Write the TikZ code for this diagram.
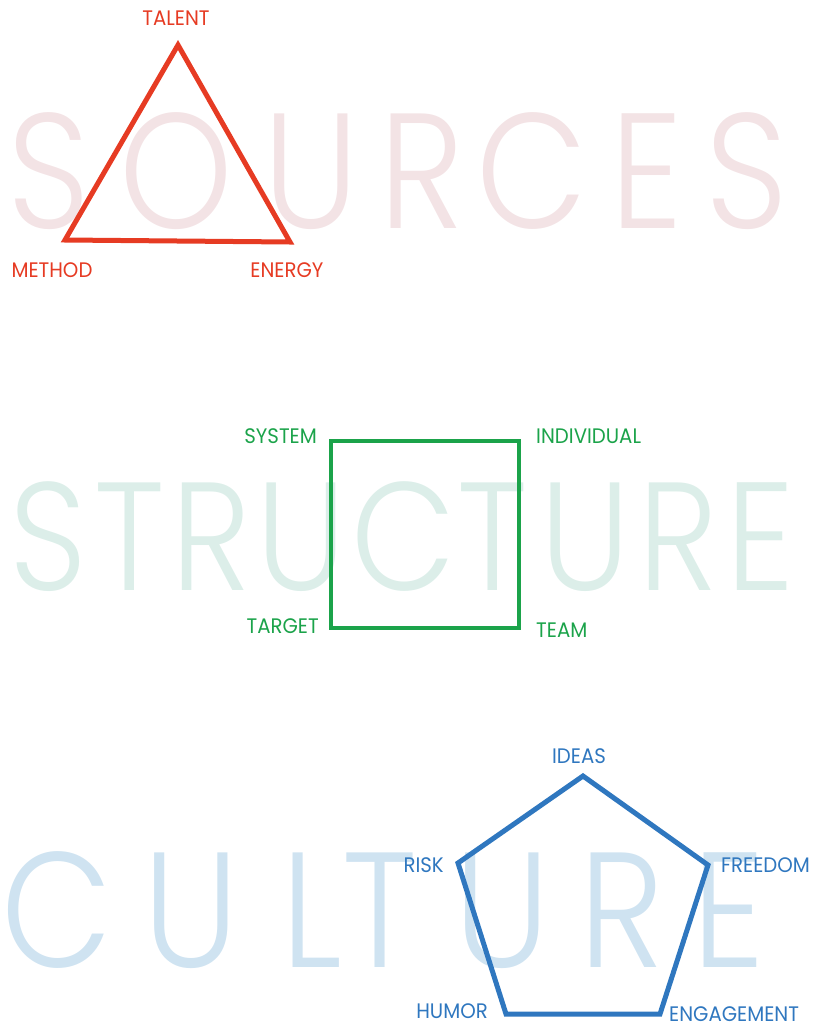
\documentclass[tikz,border=0pt]{standalone}
\usepackage{fontspec}
\setmainfont{Poppins}
\newfontfamily\bigfont{Poppins}[UprightFont={* Light},FakeStretch=0.88]
\newfontfamily\labfont{Poppins}[FakeStretch=0.94]
\definecolor{srcred}{HTML}{E63B23}
\definecolor{strgreen}{HTML}{1BA34A}
\definecolor{culblue}{HTML}{2F77BF}
\definecolor{srcbg}{HTML}{F3E3E5}
\definecolor{strbg}{HTML}{DCEEE9}
\definecolor{culbg}{HTML}{CFE3F1}
\tikzset{
  bigletter/.style={inner sep=0pt, anchor=base, font=\bigfont\fontsize{164}{164}\selectfont},
  lab/.style={inner sep=0pt, font=\labfont\fontsize{21}{21}\selectfont},
  shapeline/.style={line width=5pt, line join=miter},
}
\begin{document}
\begin{tikzpicture}[x=1pt,y=-1pt]
\useasboundingbox (0,0) rectangle (814,1023);
% background words
\foreach \l/\x [count=\i] in {S/48.5,O/176,U/311,R/422,C/532,E/647,S/747}
  \node[bigletter, text=srcbg] (src\i) at (\x,228) {\l};
\foreach \l/\x [count=\i] in {S/48,T/130,R/211,U/301.5,C/403.5,T/493,U/585,R/678.5,E/760.5}
  \node[bigletter, text=strbg, font=\bigfont\fontsize{154}{154}\selectfont] (str\i) at (\x,590) {\l};
\foreach \l/\x [count=\i] in {C/57.5,U/191.5,L/312,T/380,U/502.5,R/621.5,E/729}
  \node[bigletter, text=culbg] (cul\i) at (\x,967) {\l};
% SOURCES triangle
\coordinate (talent) at (178,45);
\coordinate (method) at (65,240);
\coordinate (energy) at (290,242);
\draw[shapeline, srcred] (talent) -- (energy) -- (method) -- cycle;
\node[lab, text=srcred, anchor=base] (lTalent) at (176,25) {TALENT};
\node[lab, text=srcred, anchor=base] (lMethod) at (52,277) {METHOD};
\node[lab, text=srcred, anchor=base] (lEnergy) at (287,277) {ENERGY};
% STRUCTURE square
\coordinate (system) at (331,441);
\coordinate (individual) at (519,441);
\coordinate (team) at (519,628);
\coordinate (target) at (331,628);
\draw[shapeline, strgreen, line width=4.5pt] (system) -- (individual) -- (team) -- (target) -- cycle;
\node[lab, text=strgreen, anchor=base east] (lSystem) at (317,443) {SYSTEM};
\node[lab, text=strgreen, anchor=base west] (lIndividual) at (536,443) {INDIVIDUAL};
\node[lab, text=strgreen, anchor=base east] (lTarget) at (319,633) {TARGET};
\node[lab, text=strgreen, anchor=base west] (lTeam) at (536,637) {TEAM};
% CULTURE pentagon
\coordinate (ideas) at (583,776);
\coordinate (freedom) at (708,865);
\coordinate (engagement) at (660,1014);
\coordinate (humor) at (506,1014);
\coordinate (risk) at (458,863);
\draw[shapeline, culblue] (ideas) -- (freedom) -- (engagement) -- (humor) -- (risk) -- cycle;
\node[lab, text=culblue, anchor=base] (lIdeas) at (579,763) {IDEAS};
\node[lab, text=culblue, anchor=base east] (lRisk) at (444,872) {RISK};
\node[lab, text=culblue, anchor=base west] (lFreedom) at (721,872) {FREEDOM};
\node[lab, text=culblue, anchor=base east] (lHumor) at (488,1018) {HUMOR};
\node[lab, text=culblue, anchor=base west] (lEngagement) at (669,1021) {ENGAGEMENT};
\end{tikzpicture}
\end{document}
